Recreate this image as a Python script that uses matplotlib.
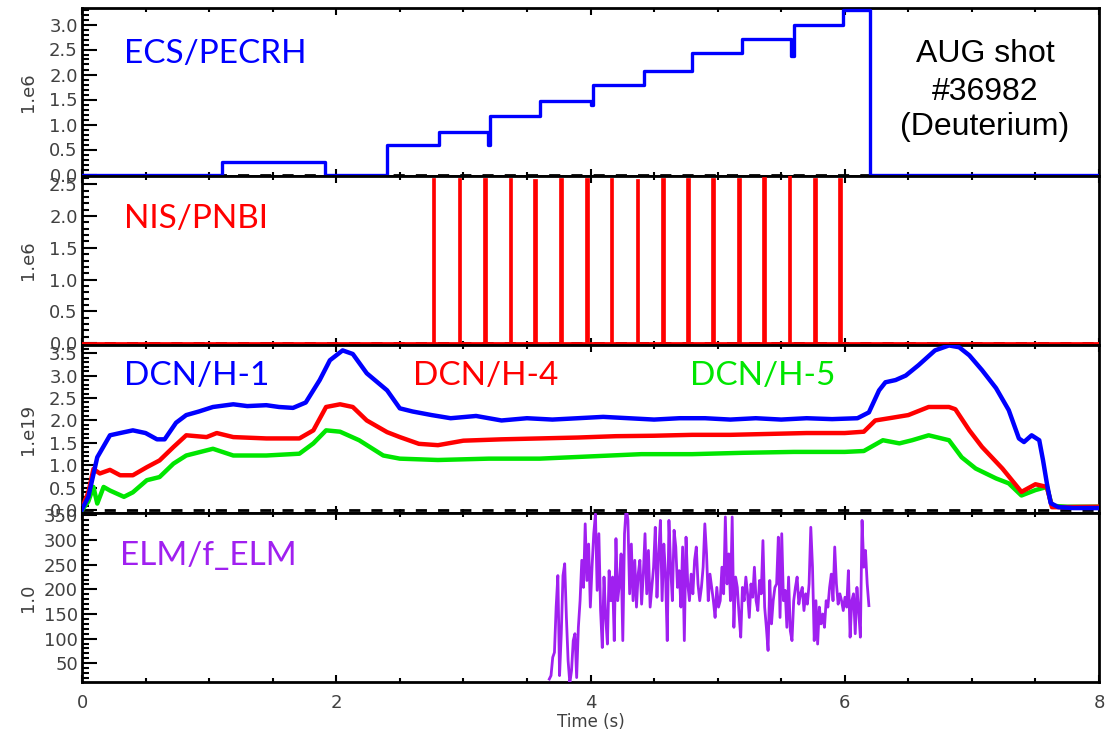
import matplotlib.pyplot as plt
import numpy as np
from matplotlib.ticker import MultipleLocator, FormatStrFormatter

# ECRH power (1e6 W), step levels starting at each time
ecrh_t = [0.0, 1.10, 1.91, 2.40, 2.81, 3.19, 3.21, 3.60, 4.00, 4.02, 4.42, 4.80,
          5.19, 5.58, 5.60, 5.99, 6.20, 8.0]
ecrh_p = [0.0, 0.25, 0.0, 0.60, 0.86, 0.60, 1.17, 1.47, 1.40, 1.79, 2.07, 2.43,
          2.71, 2.38, 2.99, 3.29, 0.0, 0.0]

# NBI blips (1e6 W)
nbi_t = [2.75, 2.955, 3.155, 3.355, 3.55, 3.755, 3.955, 4.15, 4.355, 4.555,
         4.755, 4.95, 5.155, 5.35, 5.55, 5.75, 5.95]
nbi_p = [2.6, 2.6, 2.6, 2.6, 2.58, 2.6, 2.6, 2.6, 2.58, 2.6,
         2.6, 2.6, 2.6, 2.62, 2.75, 2.6, 2.6]

# line integrated density (1e19)
h1_t = [0.0, 0.05, 0.12, 0.22, 0.30, 0.40, 0.50, 0.59, 0.65, 0.74, 0.82, 0.92,
        1.03, 1.19, 1.30, 1.45, 1.55, 1.66, 1.76, 1.87, 1.95, 2.05, 2.13, 2.24,
        2.40, 2.50, 2.60, 2.75, 2.90, 3.10, 3.30, 3.50, 3.70, 3.90, 4.10, 4.30,
        4.50, 4.70, 4.90, 5.10, 5.30, 5.50, 5.70, 5.90, 6.10, 6.19, 6.27, 6.32,
        6.40, 6.48, 6.58, 6.71, 6.82, 6.90, 6.98, 7.08, 7.19, 7.29, 7.37, 7.41,
        7.47, 7.53, 7.56, 7.59, 7.62, 7.68, 7.80, 8.0]
h1_n = [0.02, 0.3, 1.18, 1.67, 1.72, 1.78, 1.72, 1.58, 1.58, 1.95, 2.12, 2.2,
        2.3, 2.36, 2.32, 2.34, 2.3, 2.28, 2.4, 2.9, 3.34, 3.56, 3.48, 3.05,
        2.67, 2.27, 2.2, 2.12, 2.05, 2.1, 2.0, 2.05, 2.02, 2.05, 2.08, 2.05,
        2.02, 2.05, 2.05, 2.02, 2.05, 2.02, 2.05, 2.03, 2.05, 2.18, 2.67, 2.85,
        2.9, 3.0, 3.23, 3.56, 3.67, 3.63, 3.45, 3.12, 2.72, 2.23, 1.6, 1.52,
        1.67, 1.56, 1.11, 0.6, 0.16, 0.07, 0.05, 0.05]

h4_t = [0.0, 0.05, 0.09, 0.14, 0.22, 0.30, 0.40, 0.51, 0.61, 0.72, 0.82, 0.98,
        1.06, 1.19, 1.45, 1.71, 1.82, 1.92, 2.03, 2.13, 2.24, 2.40, 2.50, 2.65,
        2.80, 3.00, 3.30, 3.60, 3.90, 4.20, 4.50, 4.80, 5.10, 5.40, 5.70, 6.00,
        6.15, 6.24, 6.35, 6.50, 6.66, 6.82, 6.87, 6.98, 7.08, 7.24, 7.39, 7.50,
        7.59, 7.63, 7.70, 8.0]
h4_n = [0.05, 0.4, 0.92, 0.82, 0.9, 0.78, 0.78, 0.96, 1.11, 1.41, 1.67, 1.63,
        1.72, 1.63, 1.6, 1.6, 1.78, 2.3, 2.36, 2.3, 2.0, 1.74, 1.63, 1.48,
        1.45, 1.55, 1.58, 1.6, 1.62, 1.65, 1.66, 1.68, 1.68, 1.7, 1.72, 1.72,
        1.75, 2.0, 2.05, 2.12, 2.3, 2.3, 2.25, 1.78, 1.41, 0.93, 0.41, 0.58,
        0.52, 0.07, 0.07, 0.08]

h5_t = [0.0, 0.05, 0.09, 0.12, 0.17, 0.22, 0.33, 0.40, 0.51, 0.61, 0.72, 0.82,
        1.03, 1.19, 1.45, 1.71, 1.82, 1.92, 2.03, 2.18, 2.37, 2.50, 2.80, 3.20,
        3.60, 4.00, 4.40, 4.80, 5.20, 5.60, 6.00, 6.15, 6.30, 6.43, 6.53, 6.66,
        6.82, 6.92, 7.03, 7.19, 7.29, 7.39, 7.50, 7.59, 7.63, 7.75, 8.0]
h5_n = [0.0, 0.2, 0.52, 0.15, 0.52, 0.44, 0.3, 0.4, 0.67, 0.74, 1.04, 1.22,
        1.37, 1.22, 1.22, 1.26, 1.49, 1.78, 1.75, 1.56, 1.22, 1.15, 1.12, 1.15,
        1.15, 1.2, 1.25, 1.25, 1.28, 1.3, 1.3, 1.32, 1.56, 1.49, 1.56, 1.67,
        1.56, 1.18, 0.93, 0.71, 0.6, 0.33, 0.45, 0.52, 0.1, 0.08, 0.08]

# ELM frequency (Hz), sampled from t=3.676 s to 6.19 s
elm_start, elm_end = 3.676, 6.19
elm_f = [18, 25, 62, 72, 164, 228, 25, 110, 228, 252, 143, 55, 10, 35, 96, 110,
         21, 123, 177, 259, 204, 333, 218, 292, 164, 245, 313, 353, 198, 313, 157,
         82, 225, 143, 89, 238, 177, 225, 96, 303, 177, 211, 272, 96, 313, 367, 340,
         191, 292, 177, 259, 164, 231, 259, 170, 231, 313, 191, 279, 164, 204, 245,
         326, 184, 272, 340, 177, 292, 231, 96, 340, 245, 177, 320, 286, 204, 238,
         164, 286, 96, 306, 211, 177, 231, 191, 259, 286, 211, 177, 204, 245, 333,
         272, 177, 231, 204, 177, 143, 204, 164, 177, 245, 191, 347, 211, 272, 177,
         347, 123, 225, 204, 150, 103, 204, 177, 225, 191, 143, 211, 184, 245, 177,
         157, 218, 191, 299, 164, 123, 76, 218, 130, 177, 204, 211, 306, 143, 313,
         177, 198, 123, 225, 116, 96, 177, 204, 225, 170, 191, 204, 157, 191, 170,
         211, 326, 245, 96, 177, 89, 164, 130, 150, 123, 177, 164, 204, 231, 177,
         286, 211, 170, 191, 177, 157, 184, 164, 238, 103, 177, 191, 110, 204, 157,
         103, 340, 245, 279, 211, 167]

BLUE = '#0000ff'
RED = '#ff0000'
GREEN = '#00e600'
PURPLE = '#a020f0'
TICKC = '#404040'

W, H = 1108, 738
fig = plt.figure(figsize=(W / 100, H / 100), dpi=100)


def fx(x):
    return x / W


def fy(y):
    return 1 - y / H


left, right = 82, 1099
rows = [(8, 176), (176, 345), (345, 513), (513, 682)]
axs = []
for top, bot in rows:
    ax = fig.add_axes([fx(left), fy(bot), fx(right - left), (bot - top) / H])
    axs.append(ax)

ylims = [(-0.03, 3.33), (-0.03, 2.63), (-0.06, 3.68), (12, 355)]
ymaj = [0.5, 0.5, 0.5, 50]
ymin = [0.1, 0.1, 0.1, 10]
yfmt = ['%.1f', '%.1f', '%.1f', '%d']
ylab = ['1.e6', '1.e6', '1.e19', '1.0']

for i, ax in enumerate(axs):
    ax.set_xlim(0, 8)
    ax.set_ylim(*ylims[i])
    for s in ax.spines.values():
        s.set_linewidth(2)
    ax.xaxis.set_major_locator(MultipleLocator(2))
    ax.xaxis.set_minor_locator(MultipleLocator(0.5))
    ax.yaxis.set_major_locator(MultipleLocator(ymaj[i]))
    ax.yaxis.set_minor_locator(MultipleLocator(ymin[i]))
    ax.yaxis.set_major_formatter(FormatStrFormatter(yfmt[i]))
    ax.tick_params(axis='x', which='both', direction='in', top=True,
                   bottom=True, labelbottom=(i == 3), width=1.5)
    ax.tick_params(axis='x', which='major', length=5)
    ax.tick_params(axis='x', which='minor', length=3)
    ax.tick_params(axis='y', which='both', direction='in', right=False,
                   width=1.5, labelsize=13, labelcolor=TICKC, pad=3)
    ax.tick_params(axis='y', which='major', length=11)
    ax.tick_params(axis='y', which='minor', length=5)
    ax.tick_params(axis='x', labelsize=13, labelcolor=TICKC, pad=9)
    if i < 3:
        ax.axhline(0, color='black', lw=2, ls=(0, (4, 4)), zorder=1)
    fig.text(fx(28), fy((rows[i][0] + rows[i][1]) / 2), ylab[i], rotation=90,
             ha='center', va='center', fontsize=13, color=TICKC)

# ECRH
axs[0].step(ecrh_t, ecrh_p, where='post', color=BLUE, lw=2.4, zorder=3)

# NBI blips as filled bars on a zero baseline
axs[1].plot([0, 8], [0, 0], color=RED, lw=2, zorder=3)
axs[1].bar(nbi_t, nbi_p, width=0.03, align='edge', color=RED,
           edgecolor=RED, lw=0.5, zorder=3)

# densities
axs[2].plot(h5_t, h5_n, color=GREEN, lw=3.2, zorder=3)
axs[2].plot(h4_t, h4_n, color=RED, lw=3.2, zorder=4)
axs[2].plot(h1_t, h1_n, color=BLUE, lw=3.2, zorder=5)

# ELM frequency
elm_t = np.linspace(elm_start, elm_end, len(elm_f))
axs[3].plot(elm_t, elm_f, color=PURPLE, lw=2.0, zorder=3)

axs[3].set_xticks([0, 2, 4, 6, 8])
fig.text(fx(591), fy(722), 'Time (s)', ha='center', va='center',
         fontsize=12, color=TICKC)

# signal names
lab = dict(family='Lato', fontsize=24, va='baseline', ha='left')
fig.text(fx(124), fy(63), 'ECS/PECRH', color=BLUE, **lab)
fig.text(fx(124), fy(228), 'NIS/PNBI', color=RED, **lab)
fig.text(fx(124), fy(385), 'DCN/H-1', color=BLUE, **lab)
fig.text(fx(413), fy(385), 'DCN/H-4', color=RED, **lab)
fig.text(fx(690), fy(385), 'DCN/H-5', color=GREEN, **lab)
fig.text(fx(120), fy(565), 'ELM/f_ELM', color=PURPLE, **lab)

shot = dict(family='Liberation Sans', fontsize=23, va='baseline',
            ha='center', color='black')
fig.text(fx(985), fy(62), 'AUG shot', **shot)
fig.text(fx(985), fy(100), '#36982', **shot)
fig.text(fx(985), fy(135), '(Deuterium)', **shot)

fig.savefig('out.png', dpi=100)
